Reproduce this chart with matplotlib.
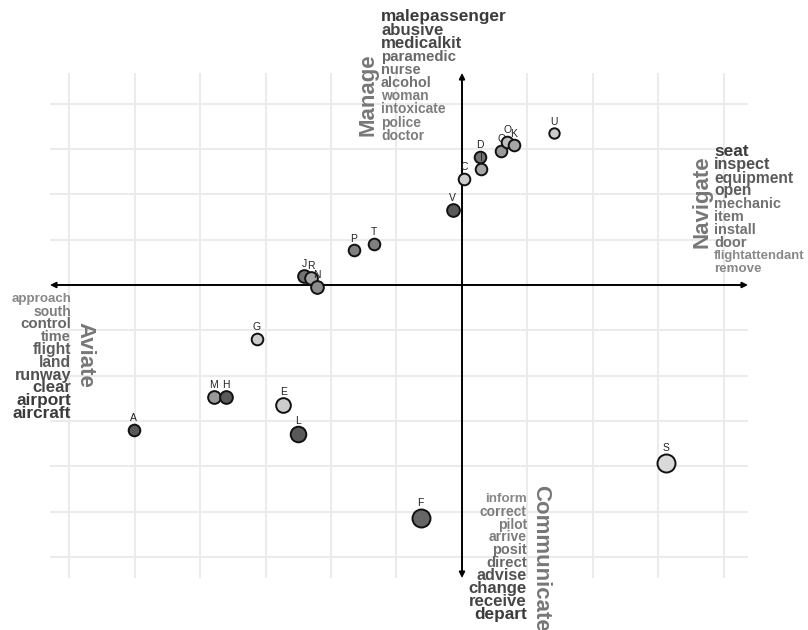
import matplotlib
matplotlib.use("Agg")
import matplotlib.pyplot as plt
import numpy as np

plt.rcParams['font.family'] = ['Liberation Sans', 'DejaVu Sans']

# points (data units: one grid step = 1)
labels = ["A", "M", "H", "G", "E", "L", "J", "R", "N", "P", "T",
          "V", "C", "D", "Q", "O", "I", "K", "U", "S", "F"]
xs = [-5.01, -3.79, -3.60, -3.13, -2.73, -2.50, -2.41, -2.31, -2.21, -1.65, -1.34,
      -0.14, 0.03, 0.27, 0.60, 0.69, 0.29, 0.79, 1.40, 3.11, -0.63]
ys = [-3.20, -2.47, -2.47, -1.19, -2.65, -3.29, 0.20, 0.15, -0.04, 0.77, 0.91,
      1.66, 2.34, 2.83, 2.96, 3.16, 2.56, 3.09, 3.36, -3.93, -5.14]
counts = [5, 6, 6, 5, 8, 9, 6, 6, 6, 5, 5,
          6, 5, 5, 5, 5, 5, 5, 4, 12, 12]
shade = [0.35, 0.60, 0.35, 0.80, 0.80, 0.35, 0.45, 0.65, 0.55, 0.50, 0.50,
         0.35, 0.80, 0.45, 0.60, 0.75, 0.65, 0.65, 0.80, 0.85, 0.40]

# word lists for each direction
manage_words = ["malepassenger", "abusive", "medicalkit", "paramedic", "nurse",
                "alcohol", "woman", "intoxicate", "police", "doctor"]
manage_wt = [10, 9, 9, 6, 5, 5, 4, 4, 4, 4]
navigate_words = ["seat", "inspect", "equipment", "open", "mechanic", "item",
                  "install", "door", "flightattendant", "remove"]
navigate_wt = [10, 8, 7, 7, 5, 5, 5, 5, 2.5, 3]
aviate_words = ["approach", "south", "control", "time", "flight", "land",
                "runway", "clear", "airport", "aircraft"]
aviate_wt = [3, 4, 6, 5, 7, 7, 8, 9, 10, 10]
comm_words = ["inform", "correct", "pilot", "arrive", "posit", "direct",
              "advise", "change", "receive", "depart"]
comm_wt = [3, 4, 4, 4, 5, 6, 8, 9, 9, 10]

W, H = 808, 630
X0, Y0, SX, SY = 462, 285, 65.5, 45.3   # pixel origin and grid spacing

fig = plt.figure(figsize=(W / 100, H / 100), dpi=100)
ax = fig.add_axes([0, 0, 1, 1])
ax.set_xlim((0 - X0) / SX, (W - X0) / SX)
ax.set_ylim((Y0 - H) / SY, Y0 / SY)
ax.axis("off")

xl, xr = (50 - X0) / SX, (748 - X0) / SX
yt, yb = (Y0 - 73) / SY, (Y0 - 578) / SY

# grid
ax.hlines(np.arange(-6, 5), xl, xr, color="#ebebeb", lw=1.5, zorder=0)
ax.vlines(np.arange(-6, 5), yb, yt, color="#ebebeb", lw=1.5, zorder=0)

# axes arrows
arrow = dict(arrowstyle="<|-|>", lw=1.4, color="black", mutation_scale=8,
             shrinkA=0, shrinkB=0)
ax.annotate("", xy=(xl, 0), xytext=(xr, 0), arrowprops=arrow, zorder=2)
ax.annotate("", xy=(0, yt), xytext=(0, yb), arrowprops=arrow, zorder=2)

# points with labels
for i, lab in enumerate(labels):
    z = 3 + 2 * i
    s = counts[i] * 14
    ax.scatter(xs[i], ys[i], s=s, color=str(shade[i]),
               edgecolor="#111111", linewidth=1.4, zorder=z)
    ax.annotate(lab, (xs[i], ys[i]), xytext=(0, np.sqrt(s) / 2 + 0.5),
                textcoords="offset points", ha="center", va="bottom",
                fontsize=7.5, color="#222222", zorder=z + 1)


def word_style(w):
    size = 1.12 * (7.5 + 0.36 * w)
    g = int(0x88 - (w - 3) * 0x0b)
    g = max(min(g, 0x88), 0x22)
    return size, "#%02x%02x%02x" % (g, g, g)


def word_list(words, wts, x, y0, step, ha):
    for i, (w, wt) in enumerate(zip(words, wts)):
        size, col = word_style(wt)
        fig.text(x / W, 1 - (y0 + i * step) / H, w, ha=ha, va="center",
                 fontsize=size, fontweight="bold", color=col)


word_list(manage_words, manage_wt, 381, 17, 13.2, "left")
word_list(navigate_words, navigate_wt, 714, 152, 13.0, "left")
word_list(aviate_words, aviate_wt, 71, 299, 12.7, "right")
word_list(comm_words, comm_wt, 527, 499, 12.8, "right")

title_kw = dict(fontsize=16, fontweight="bold", color="#777777",
                ha="center", va="center")
fig.text(368 / W, 1 - 95 / H, "Manage", rotation=90, **title_kw)
fig.text(702 / W, 1 - 202 / H, "Navigate", rotation=90, **title_kw)
fig.text(85 / W, 1 - 355 / H, "Aviate", rotation=270, **title_kw)
fig.text(541 / W, 1 - 558 / H, "Communicate", rotation=270, **title_kw)

fig.savefig("out.png", dpi=100)
